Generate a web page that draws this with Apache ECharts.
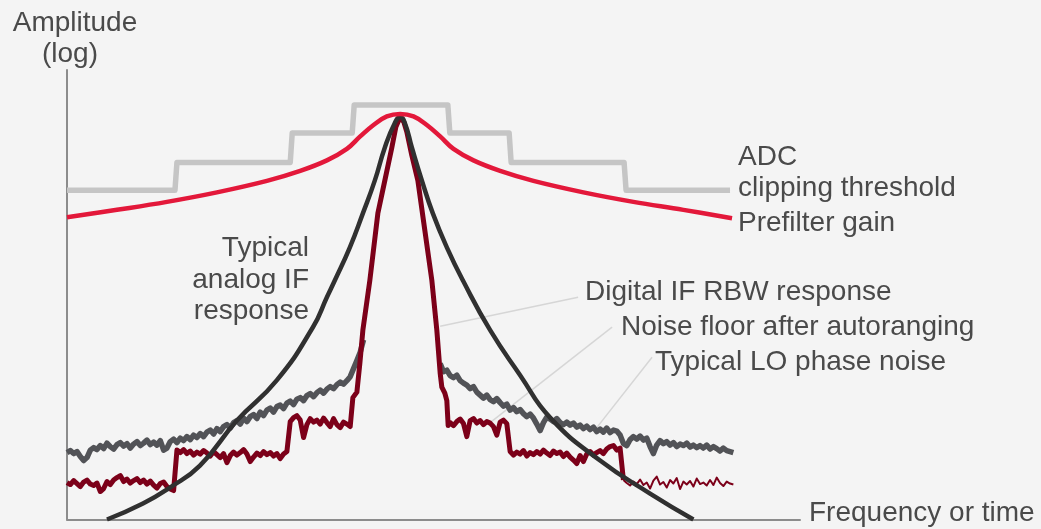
<!DOCTYPE html>
<html>
<head>
<meta charset="utf-8">
<title>Amplitude vs frequency</title>
<script src="https://cdn.jsdelivr.net/npm/echarts/dist/echarts.min.js"></script>
<style>
  html, body { margin: 0; padding: 0; background: #f4f4f4; }
  #chart { width: 1041px; height: 529px; }
</style>
</head>
<body>
<div id="chart"></div>
<script>
// x = frequency offset (arbitrary units, carrier at 100), y = amplitude (dB, arbitrary)

// ADC clipping threshold (steps)
var adcFreq = [0, 32.4, 33.0, 67.0, 67.6, 85.6, 86.2, 114.3, 114.9, 132.7, 133.3, 167.2, 167.8, 199];
var adcAmp  = [65.9, 65.9, 71.5, 71.5, 77.4, 77.4, 83.0, 83.0, 77.4, 77.4, 71.5, 71.5, 65.9, 65.9];

// prefilter gain
var preFreq = [0, 15, 30, 45, 60, 70, 78, 84, 88, 92, 96, 100, 104, 108, 112, 116, 122, 130, 140, 155, 170, 185, 199.6];
var preAmp  = [60.5, 62.0, 63.6, 65.5, 67.8, 69.8, 71.9, 74.2, 76.7, 79.0, 80.7, 81.2, 80.7, 79.0, 76.7, 74.2, 71.9, 69.8, 67.8, 65.5, 63.6, 62.0, 60.3];

// typical analog IF response
var ifFreq = [12, 22.8, 30.9, 39.9, 51, 63, 73.8, 78, 80.4, 84.9, 88.8, 92.4, 95.4, 98.4, 100, 101.4, 103.5, 106.5, 109.8, 114, 118.8, 127, 136, 145, 160, 175, 188];
var ifAmp  = [0, 3.2, 6.4, 10.8, 19.8, 27.9, 38.5, 44.5, 47.9, 54.5, 61.3, 67.9, 74.5, 79.4, 80.6, 79.4, 74.5, 67.9, 61.3, 54.5, 47.9, 37.9, 28.9, 20.4, 11.8, 5.2, 0];

// typical LO phase noise, one value per unit of frequency
var loLeftStart = 0;
var loLeft = [
  13.4, 13.8, 13.2, 13.6, 12.6, 11.8, 12.4, 13.9, 14.4, 14.0,
  14.8, 14.2, 15.3, 14.6, 14.1, 15.0, 15.4, 14.7, 15.2, 14.3,
  15.1, 15.6, 14.8, 15.3, 15.9, 15.0, 15.5, 14.9, 15.8, 13.9,
  14.3, 15.6, 16.1, 15.4, 16.3, 15.8, 16.6, 16.0, 16.9, 16.4,
  17.2, 16.6, 17.5, 17.9, 17.1, 18.2, 17.6, 18.6, 19.0, 18.3,
  19.4, 19.8, 19.1, 20.3, 19.6, 20.6, 21.0, 20.2, 21.5, 20.8,
  21.9, 22.3, 21.5, 22.6, 22.9, 22.2, 23.3, 23.7, 23.0, 24.1,
  24.4, 23.8, 24.8, 25.2, 24.6, 25.4, 25.9, 25.3, 26.1, 26.6,
  26.2, 27.0, 27.5, 27.1, 27.8, 28.6, 30.2, 31.8, 33.5, 36.0
];
var loRightStart = 112;
var loRight = [
  31.2, 29.6, 29.9, 28.8, 28.4, 28.9, 27.8, 27.3,
  26.9, 26.2, 26.6, 25.5, 24.9, 24.3, 24.9, 24.0, 23.6, 24.2,
  23.4, 22.7, 23.1, 21.9, 22.4, 21.6, 22.0, 21.2, 20.6, 21.1,
  20.3, 19.1, 17.8, 19.4, 20.5, 20.1, 19.6, 20.2, 19.4, 19.0,
  19.5, 18.9, 19.3, 18.5, 18.9, 18.2, 18.7, 18.0, 18.5, 17.6,
  18.1, 17.5, 18.3, 17.4, 17.9, 17.7, 16.9, 15.2, 14.8, 16.0,
  16.6, 16.1, 16.7, 15.9, 16.3, 14.6, 13.2, 14.9, 15.8, 15.2,
  15.6, 14.9, 15.4, 14.6, 15.1, 14.8, 15.3, 14.5, 14.9, 14.4,
  14.8, 14.3, 14.9, 14.1, 14.6, 14.2, 13.7, 14.3, 13.8, 13.6, 13.4
];

// noise floor after autoranging, left of the carrier
var floorLeftStart = 0;
var floorLeft = [
  7.4, 7.0, 7.8, 7.2, 6.6, 7.5, 7.9, 7.1, 6.8, 7.3,
  5.6, 6.2, 7.6, 7.0, 7.9, 8.4, 8.8, 7.6, 8.1, 7.3,
  7.8, 8.2, 7.4, 7.9, 7.1, 7.7, 6.9, 6.3, 7.2, 7.5,
  6.6, 6.1, 5.8,
  13.9, 13.4, 14.0, 13.2, 13.7, 12.9, 13.5,
  13.1, 13.8, 13.3, 12.7, 13.6, 13.0, 12.4, 13.2, 11.4, 12.8,
  13.5, 12.9, 13.4, 14.0, 13.1, 11.6, 12.5, 13.3, 12.8, 13.6,
  13.0, 13.4, 12.7, 13.2, 12.2, 13.1, 13.6,
  19.6, 20.4, 20.8,
  19.9, 16.4, 19.0, 20.2, 19.5, 19.9, 19.1, 20.3, 19.4, 18.6,
  20.2, 19.0, 18.4, 19.5, 19.1, 18.6
];
// digital IF RBW response (the narrow peak)
var rbwFreq = [85.8, 87.0, 87.9, 88.8, 90.9, 93.3, 95.4, 97.5, 98.7, 100, 101.1, 102, 103.5, 105.3, 107.4, 109.5, 111.0, 112.0, 112.5, 113.4, 114.0, 114.4];
var rbwAmp  = [24.4, 25.5, 31.3, 37.9, 47.9, 61.3, 67.9, 74.5, 78.6, 80.6, 79.6, 77.6, 72.9, 67.9, 57.9, 47.9, 37.9, 29.3, 26.5, 25.3, 23.8, 18.8];
// noise floor right of the carrier
var floorRightStart = 115;
var floorRight = [
  19.4, 18.8, 19.6, 20.1, 19.2,
  16.6, 19.8, 20.2, 19.3, 19.8, 19.0, 19.6, 19.3, 18.6, 16.9,
  19.5, 19.9, 19.2,
  13.6, 12.9, 13.5, 13.1, 13.8, 12.7, 13.4,
  13.0, 13.6, 13.1, 13.9, 13.3, 12.8, 13.7, 13.2, 13.5, 12.6,
  13.3, 12.5, 11.9, 11.2, 12.8, 11.6, 13.1, 13.6, 12.9, 13.4,
  13.8, 13.2, 14.1, 14.6, 14.8, 13.9, 14.3,
  7.9
];
var floorTailStart = 167;
var floorTail = [
  7.9, 7.3, 6.8, 7.6, 7.1, 8.0, 6.9, 7.4, 6.2, 7.8,
  8.6, 7.0, 7.5, 6.4, 7.9, 7.2, 8.3, 6.1, 7.6, 7.0,
  7.7, 6.6, 8.2, 7.1, 7.4, 6.8, 7.9, 6.9, 8.4, 7.3,
  6.7, 7.6, 7.2, 7.0
];

// leader lines: [label end, curve end]
var leaderRbw   = [[153.4, 44.5], [112.0, 38.7]];
var leaderFloor = [[163.6, 38.5], [127.0, 19.4]];
var leaderLo    = [[175.6, 32.5], [159.0, 18.4]];

function pairs(xs, ys) {
    var out = [];
    for (var i = 0; i < xs.length; i++) {
        out.push([xs[i], ys[i]]);
    }
    return out;
}
function evenly(start, ys) {
    var out = [];
    for (var i = 0; i < ys.length; i++) {
        out.push([start + i, ys[i]]);
    }
    return out;
}

var floorData = evenly(floorLeftStart, floorLeft)
    .concat(pairs(rbwFreq, rbwAmp))
    .concat(evenly(floorRightStart, floorRight));

var textColor = '#4a4a4a';
var font = '"Liberation Sans", Arial, sans-serif';

function label(text, x, y, align) {
    return {
        type: 'text',
        x: x,
        y: y,
        style: {
            text: text,
            fill: textColor,
            font: '28px ' + font,
            align: align || 'left',
            verticalAlign: 'middle'
        }
    };
}

function line(name, data, color, width, z, smooth) {
    return {
        name: name,
        type: 'line',
        data: data,
        showSymbol: false,
        smooth: smooth || false,
        z: z,
        lineStyle: { color: color, width: width, cap: 'butt', join: 'round' }
    };
}

var myChart = echarts.init(document.getElementById('chart'));
var option = {
    backgroundColor: '#f4f4f4',
    animation: false,
    grid: { left: 67, right: 241, top: 70, bottom: 9.5 },
    xAxis: {
        type: 'value',
        min: 0,
        max: 220,
        axisLine: { show: true, lineStyle: { color: '#8c8c8c', width: 2 } },
        axisTick: { show: false },
        axisLabel: { show: false },
        splitLine: { show: false }
    },
    yAxis: {
        type: 'value',
        min: 0,
        max: 90,
        axisLine: { show: true, lineStyle: { color: '#8c8c8c', width: 2 } },
        axisTick: { show: false },
        axisLabel: { show: false },
        splitLine: { show: false }
    },
    series: [
        line('leader1', leaderRbw, '#d6d6d6', 1.5, 1),
        line('leader2', leaderFloor, '#d6d6d6', 1.5, 1),
        line('leader3', leaderLo, '#d6d6d6', 1.5, 1),
        line('ADC clipping threshold', pairs(adcFreq, adcAmp), '#c5c5c5', 5.5, 2),
        line('LO left', evenly(loLeftStart, loLeft), '#525357', 5.5, 3),
        line('LO right', evenly(loRightStart, loRight), '#525357', 5.5, 3),
        line('Noise floor', floorData, '#7c0019', 5, 4),
        line('Noise floor tail', evenly(floorTailStart, floorTail), '#7c0019', 2, 4),
        line('Typical analog IF response', pairs(ifFreq, ifAmp), '#303030', 4.5, 5, 0.5),
        line('Prefilter gain', pairs(preFreq, preAmp), '#e3183a', 4.5, 6, 0.4)
    ],
    graphic: [
        label('Amplitude', 75, 23.5, 'center'),
        label('(log)', 70, 54.5, 'center'),
        label('Frequency or time', 809, 513),
        label('ADC', 738, 157.5),
        label('clipping threshold', 738, 188.5),
        label('Prefilter gain', 738, 223.5),
        label('Typical', 309, 248.5, 'right'),
        label('analog IF', 309, 280.5, 'right'),
        label('response', 309, 311.5, 'right'),
        label('Digital IF RBW response', 585, 292.5),
        label('Noise floor after autoranging', 621, 327),
        label('Typical LO phase noise', 655, 362)
    ]
};
myChart.setOption(option);
</script>
</body>
</html>
